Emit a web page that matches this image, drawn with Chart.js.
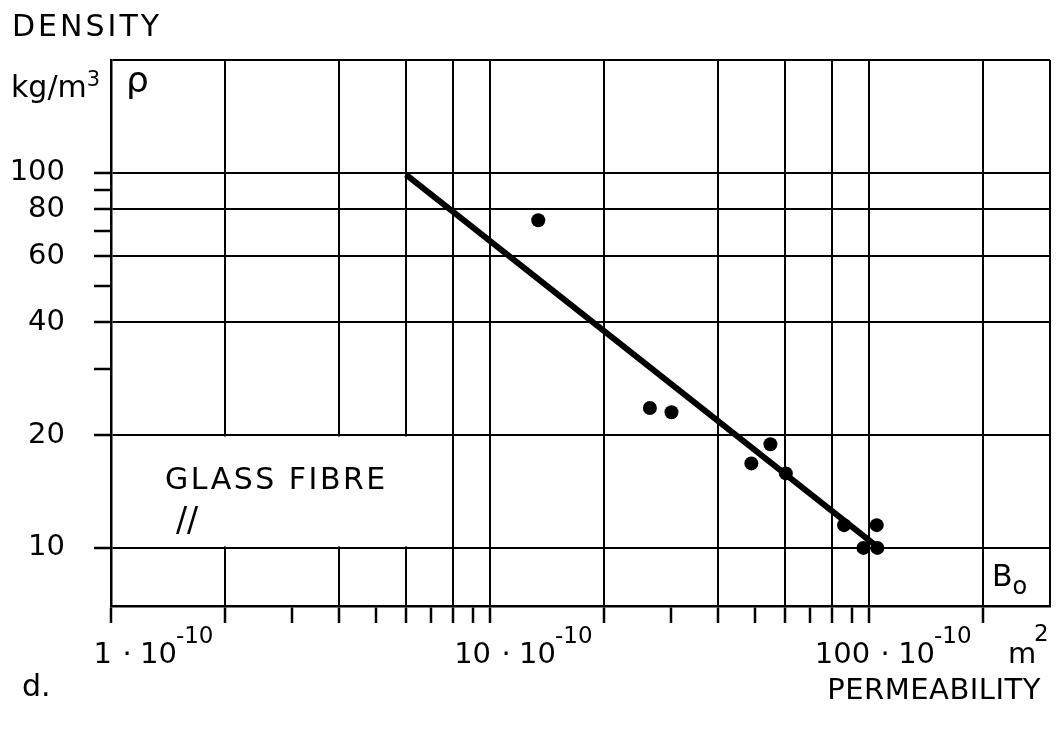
<!DOCTYPE html>
<html>
<head>
<meta charset="utf-8">
<script src="https://cdn.jsdelivr.net/npm/chart.js@4.4.1/dist/chart.umd.min.js"></script>
<style>
  html, body { margin: 0; padding: 0; background: #fff; }
  #wrap { position: relative; width: 1057px; height: 732px; font-family: 'DejaVu Sans', sans-serif; color: #000; }
  #wrap canvas { position: absolute; left: 0; top: 0; }
  .txt { position: absolute; font-size: 30px; line-height: 1; white-space: nowrap; }
  .txt sup { font-size: 21px; vertical-align: 11px; }
  .txt sub { font-size: 24px; vertical-align: -8px; }
</style>
</head>
<body>
<div id="wrap">
  <canvas id="chart" width="1057" height="732"></canvas>
  <div class="txt" style="left:12px;top:11px;letter-spacing:3px">DENSITY</div>
  <div class="txt" style="left:11px;top:69px">kg/m<sup>3</sup></div>
  <div class="txt" style="left:126px;top:62px;font-size:36px">ρ</div>
  <div class="txt" style="left:165px;top:464px;letter-spacing:2.5px">GLASS FIBRE</div>
  <div class="txt" style="left:176px;top:503px;font-size:33px">//</div>
  <div class="txt" style="left:992px;top:561px">B<sub>o</sub></div>
  <div class="txt" style="left:22px;top:671px">d.</div>
  <div class="txt" style="right:16px;top:675px;font-size:29px;letter-spacing:0.5px">PERMEABILITY</div>
</div>
<script>
// axis ranges (permeability in 1e-10 m2, density in kg/m3)
const xMin = 1, xMax = 300;
const yMin = 7, yMax = 200;

// grid lines, tick marks and labels
const xGridValues = [2, 4, 6, 8, 10, 20, 40, 60, 80, 100, 200, 300];
const xTickMarks = [1, 2, 3, 4, 5, 6, 7, 8, 9, 10, 20, 30, 40, 50, 60, 70, 80, 90, 100, 200];
const xLabelValues = [1, 10, 100];
const yGridValues = [10, 20, 40, 60, 80, 100, 200];
const yTickMarks = [10, 20, 30, 40, 50, 60, 70, 80, 90, 100];
const yLabelValues = [10, 20, 40, 60, 80, 100];

// measured samples
const permeability = [13.4, 26.4, 30.1, 48.9, 54.9, 60.3, 85.9, 104.7, 96.6, 105.1];
const density = [74.8, 23.6, 23.0, 16.8, 18.9, 15.8, 11.5, 11.5, 10.0, 10.0];

// fitted line
const fitPermeability = [6, 106];
const fitDensity = [99, 10.0];

const FONT = 'DejaVu Sans';

const pairs = (xs, ys) => xs.map((v, i) => ({ x: v, y: ys[i] }));
const setTicks = list => axis => { axis.ticks = list.map(v => ({ value: v })); };
const pick = (list, on, off) => ctx => (ctx.tick && list.includes(ctx.tick.value) ? on : off);

// white label box + x tick labels with exponents
const annotations = {
  id: 'annotations',
  beforeDatasetsDraw(chart) {
    const { ctx, scales: { x, y } } = chart;
    const left = x.getPixelForValue(1) + 2;
    const right = x.getPixelForValue(7);
    const top = y.getPixelForValue(20) + 1.5;
    const bottom = y.getPixelForValue(10) - 1.5;
    ctx.save();
    ctx.fillStyle = '#fff';
    ctx.fillRect(left, top, right - left, bottom - top);
    ctx.restore();
  },
  afterDraw(chart) {
    const { ctx, chartArea, scales: { x } } = chart;
    const base = chartArea.bottom + 57;
    const supBase = chartArea.bottom + 37;
    ctx.save();
    ctx.fillStyle = '#000';
    ctx.textBaseline = 'alphabetic';
    xLabelValues.forEach(v => {
      const px = x.getPixelForValue(v);
      ctx.font = '29px "' + FONT + '"';
      ctx.textAlign = 'right';
      ctx.fillText(String(v), px + 1, base);
      ctx.textAlign = 'center';
      ctx.fillText('·', px + 16, base);
      ctx.textAlign = 'left';
      ctx.fillText('10', px + 29, base);
      const w = ctx.measureText('10').width;
      ctx.font = '23px "' + FONT + '"';
      ctx.fillText('-10', px + 28 + w, supBase);
    });
    ctx.font = '29px "' + FONT + '"';
    ctx.textAlign = 'left';
    ctx.fillText('m', chartArea.right - 42, base);
    ctx.font = '23px "' + FONT + '"';
    ctx.fillText('2', chartArea.right - 16, supBase - 2);
    ctx.restore();
  }
};

new Chart(document.getElementById('chart'), {
  type: 'scatter',
  data: {
    datasets: [
      {
        data: pairs(permeability, density),
        pointRadius: 7,
        pointHoverRadius: 7,
        backgroundColor: '#000',
        borderWidth: 0,
      },
      {
        data: pairs(fitPermeability, fitDensity),
        showLine: true,
        pointRadius: 0,
        borderColor: '#000',
        borderWidth: 6,
      },
    ],
  },
  options: {
    responsive: false,
    animation: false,
    layout: { padding: { top: 60, right: 6, left: 0, bottom: 0 } },
    plugins: { legend: { display: false }, tooltip: { enabled: false } },
    scales: {
      x: {
        type: 'logarithmic',
        min: xMin,
        max: xMax,
        afterBuildTicks: setTicks(xTickMarks.concat(xGridValues.filter(v => !xTickMarks.includes(v)))),
        afterFit: scale => { scale.height = 126; },
        border: { display: true, color: '#000', width: 2.5 },
        grid: {
          color: pick(xGridValues, '#000', 'rgba(0,0,0,0)'),
          tickColor: pick(xTickMarks, '#000', 'rgba(0,0,0,0)'),
          lineWidth: 2,
          tickWidth: 2.5,
          tickLength: 17,
        },
        ticks: { autoSkip: false, maxRotation: 0, callback: () => '' },
      },
      y: {
        type: 'logarithmic',
        min: yMin,
        max: yMax,
        afterBuildTicks: setTicks(yTickMarks.concat([200])),
        afterFit: scale => { scale.width = 111; },
        border: { display: true, color: '#000', width: 2.5 },
        grid: {
          color: pick(yGridValues, '#000', 'rgba(0,0,0,0)'),
          tickColor: pick(yTickMarks, '#000', 'rgba(0,0,0,0)'),
          lineWidth: 2,
          tickWidth: 2.5,
          tickLength: 17,
        },
        ticks: {
          autoSkip: false,
          padding: 29,
          color: '#000',
          font: { family: FONT, size: 29 },
          callback: v => (yLabelValues.includes(v) ? String(v) : ''),
        },
      },
    },
  },
  plugins: [annotations],
});
</script>
</body>
</html>
